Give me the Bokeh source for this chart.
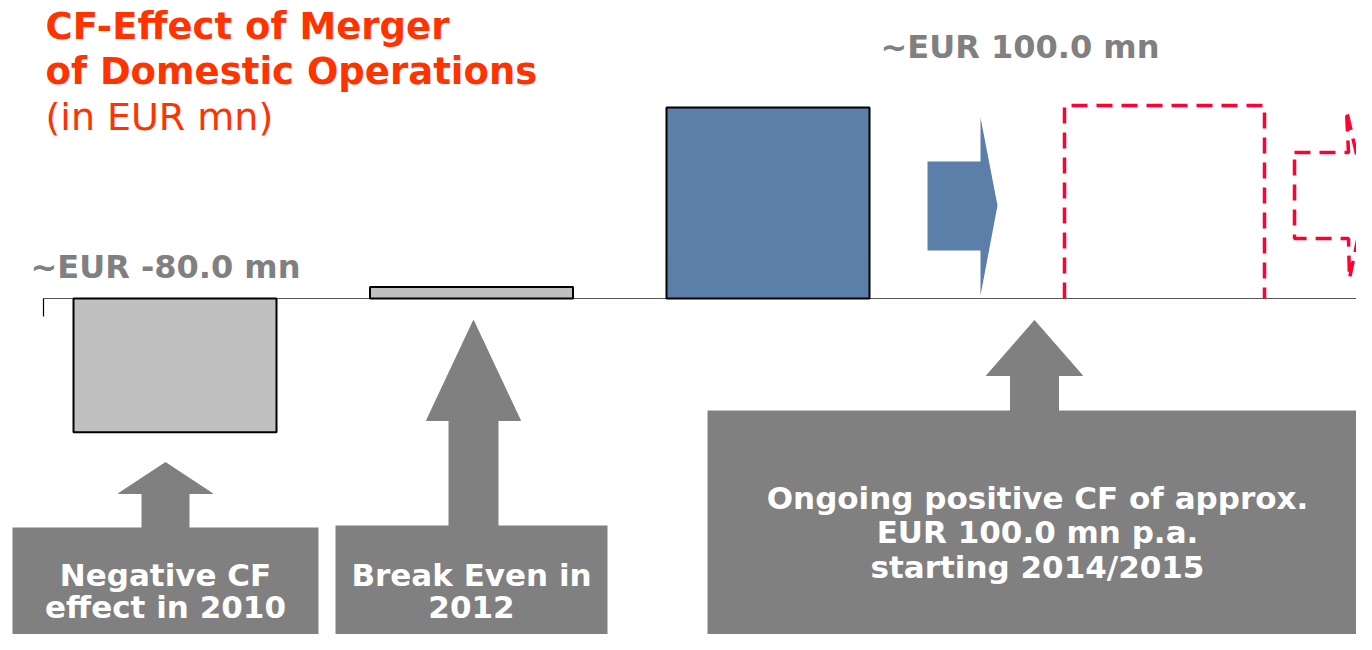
from bokeh.plotting import figure
from bokeh.models import Range1d
from bokeh.core.properties import value
from bokeh.embed import file_html
from bokeh.resources import INLINE

# ---------------- data ----------------
categories = ["2010", "2012", "2014/2015"]
cf_labels = [-80.0, 0.0, 100.0]              # EUR mn, as written on the chart
bar_height_read = [-70.0, 6.0, 100.0]        # heights as drawn (100 = tallest bar)
bar_colors = ["#C0C0C0", "#C0C0C0", "#5B7FA8"]
title_lines = ["CF-Effect of Merger", "of Domestic Operations"]
subtitle = "(in EUR mn)"
box_texts = [["Negative CF", "effect in 2010"],
             ["Break Even in", "2012"],
             ["Ongoing positive CF of approx.", "EUR 100.0 mn p.a.", "starting 2014/2015"]]

# ---------------- layout ----------------
W, H = 1356, 634
BASE_PX = 298          # y of the zero line (pixels from top)
PX_PER_UNIT = 1.91
SLOT0, SLOT = 174.5, 296.5
DY = -11               # text vertical adjustment

FONT = value("DejaVu Sans")
GRAY = "#808080"

p = figure(width=W, height=H, output_backend="svg", toolbar_location=None,
           x_range=Range1d(-SLOT0 / SLOT, (W - SLOT0) / SLOT),
           y_range=Range1d((BASE_PX - H) / PX_PER_UNIT, BASE_PX / PX_PER_UNIT),
           min_border=0, outline_line_color=None,
           x_axis_location=None, y_axis_location=None)
p.grid.visible = False
p.background_fill_color = "white"
p.border_fill_color = "white"
p.extra_x_ranges = {"px": Range1d(0, W)}
p.extra_y_ranges = {"px": Range1d(H, 0)}
PX = dict(x_range_name="px", y_range_name="px")

# zero line + small tick
p.line([43, 1372], [BASE_PX, BASE_PX], line_color="#555555", line_width=1.2, **PX)
p.line([43, 43], [BASE_PX, 316], line_color="black", line_width=1.2, **PX)

# bars from data
p.vbar(x=list(range(len(categories))), top=bar_height_read, bottom=0, width=203 / SLOT,
       fill_color=bar_colors, line_color="black", line_width=2)

# title
for i, t in enumerate(title_lines):
    p.text(x=[45], y=[37 + 45 * i + DY], text=[t], text_font=FONT, text_font_style="bold",
           text_font_size="37px", text_color="#FF3300", text_baseline="alphabetic", **PX)
p.text(x=[45], y=[127 + DY], text=[subtitle], text_font=FONT, text_font_size="38px",
       text_color="#FF3300", text_baseline="alphabetic", **PX)

# value labels
p.text(x=[30], y=[277 + DY], text=["~EUR %.1f mn" % cf_labels[0]], text_font=FONT,
       text_font_style="bold", text_font_size="32px", text_color=GRAY,
       text_baseline="alphabetic", **PX)
p.text(x=[880], y=[57 + DY], text=["~EUR %.1f mn" % cf_labels[2]], text_font=FONT,
       text_font_style="bold", text_font_size="32px", text_color=GRAY,
       text_baseline="alphabetic", **PX)

# gray up arrows + boxes
def up_arrow(cx, tip, head_base, head_hw, shaft_hw, bottom):
    xs = [cx, cx + head_hw, cx + shaft_hw, cx + shaft_hw, cx - shaft_hw, cx - shaft_hw, cx - head_hw]
    ys = [tip, head_base, head_base, bottom, bottom, head_base, head_base]
    p.patch(xs, ys, fill_color=GRAY, line_color=GRAY, **PX)

up_arrow(165, 462, 493, 47, 23.5, 528)
up_arrow(473, 320, 420, 47, 24.5, 526)
up_arrow(1034, 320, 375, 48, 24, 411)

boxes = [(12, 318, 527), (335, 607, 525), (707, 1367, 410)]
for (l, r, t) in boxes:
    p.quad(left=[l], right=[r], top=[t], bottom=[660], fill_color=GRAY, line_color=None, **PX)

baselines = [[585, 617], [585, 617], [508, 542, 577]]
for (l, r, t), lines, bls in zip(boxes, box_texts, baselines):
    cx = (l + r) / 2
    p.text(x=[cx] * len(lines), y=[b + DY for b in bls], text=lines, text_font=FONT,
           text_font_style="bold", text_font_size="31px", text_color="white",
           text_align="center", text_baseline="alphabetic", **PX)

# blue right arrow
p.patch([927, 980, 980, 997, 980, 980, 927], [161, 161, 117, 205, 295, 250, 250],
        fill_color="#5B7FA8", line_color=None, **PX)

# red dashed box (future years) and dashed arrow
RED = "#FF0033"
p.line([1064, 1064, 1264, 1264], [298, 105, 105, 298], line_color=RED, line_width=3.5,
       line_dash="16 9", **PX)
p.line([1294, 1348, 1346, 1366, 1349, 1348, 1294, 1294],
       [152, 152, 110, 197, 278, 238, 238, 152], line_color=RED, line_width=3.5,
       line_dash="16 9", **PX)

open("out.html", "w").write(file_html(p, INLINE))
